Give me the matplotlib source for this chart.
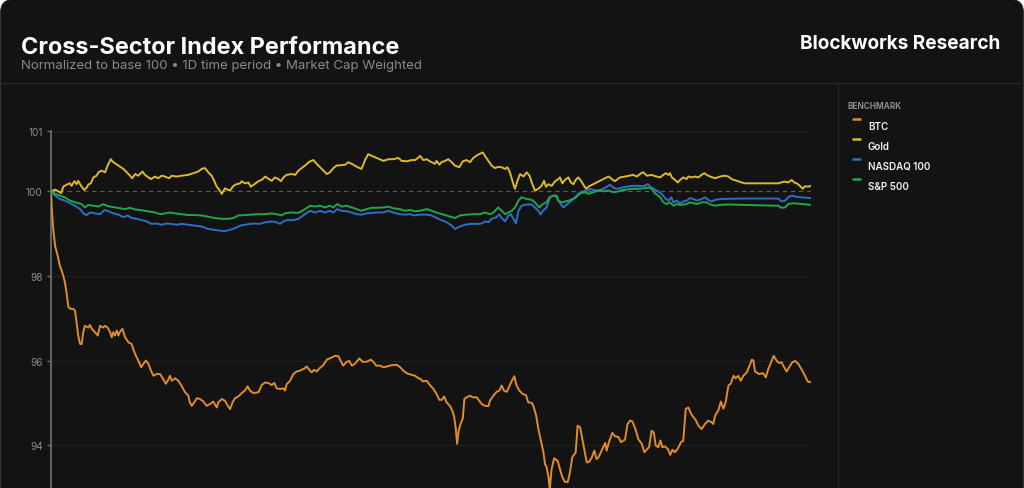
import matplotlib
matplotlib.use("Agg")
import matplotlib.pyplot as plt
from matplotlib.patches import FancyBboxPatch

# ---------------- data (hours since start, normalized index) ----------------
btc_t = [0, 0.02, 0.07, 0.13, 0.21, 0.28, 0.34, 0.39, 0.44, 0.49, 0.55, 0.63, 0.71, 0.76, 0.81, 0.86,
         0.92, 0.97, 1.02, 1.07, 1.18, 1.23, 1.29, 1.39, 1.48, 1.55, 1.65, 1.71, 1.79, 1.87, 1.92, 1.97,
         2.02, 2.08, 2.13, 2.18, 2.26, 2.34, 2.45, 2.55, 2.60, 2.68, 2.76, 2.85, 2.92, 3.00, 3.08, 3.16,
         3.24, 3.34, 3.45, 3.55, 3.63, 3.69, 3.76, 3.82, 3.92, 4.03, 4.13, 4.24, 4.34, 4.39, 4.45, 4.53,
         4.61, 4.71, 4.82, 4.92, 5.03, 5.13, 5.24, 5.29, 5.40, 5.50, 5.59, 5.66, 5.74, 5.82, 5.92, 6.03,
         6.13, 6.22, 6.29, 6.40, 6.56, 6.66, 6.77, 6.87, 6.98, 7.06, 7.14, 7.24, 7.35, 7.40, 7.45, 7.56,
         7.66, 7.77, 7.87, 8.03, 8.08, 8.17, 8.24, 8.32, 8.40, 8.48, 8.61, 8.72, 8.87, 8.98, 9.09, 9.16,
         9.24, 9.35, 9.43, 9.51, 9.61, 9.75, 9.85, 9.98, 10.11, 10.19, 10.28, 10.40, 10.51, 10.63, 10.77,
         10.93, 11.04, 11.14, 11.25, 11.40, 11.51, 11.62, 11.69, 11.75, 11.88, 11.98, 12.09, 12.19, 12.28,
         12.35, 12.43, 12.51, 12.62, 12.70, 12.75, 12.80, 12.84, 12.89, 12.95, 13.02, 13.07, 13.14, 13.25,
         13.33, 13.46, 13.54, 13.62, 13.72, 13.83, 13.88, 13.99, 14.09, 14.18, 14.25, 14.32, 14.41, 14.49,
         14.57, 14.65, 14.72, 14.81, 14.91, 15.02, 15.09, 15.20, 15.25, 15.34, 15.41, 15.48, 15.57, 15.62,
         15.67, 15.73, 15.77, 15.83, 15.91, 16.02, 16.09, 16.17, 16.25, 16.34, 16.41, 16.48, 16.59, 16.65,
         16.73, 16.80, 16.89, 16.94, 17.02, 17.10, 17.18, 17.25, 17.31, 17.41, 17.52, 17.57, 17.64, 17.75,
         17.83, 17.94, 18.02, 18.15, 18.23, 18.31, 18.38, 18.47, 18.57, 18.68, 18.76, 18.83, 18.91, 18.99,
         19.06, 19.12, 19.20, 19.27, 19.33, 19.41, 19.50, 19.58, 19.65, 19.73, 19.82, 19.92, 19.99, 20.07,
         20.15, 20.24, 20.31, 20.38, 20.47, 20.57, 20.68, 20.78, 20.89, 20.94, 21.00, 21.10, 21.18, 21.26,
         21.33, 21.42, 21.49, 21.58, 21.65, 21.73, 21.81, 21.89, 22.00, 22.05, 22.16, 22.21, 22.26, 22.39,
         22.52, 22.60, 22.68, 22.77, 22.85, 22.95, 23.02, 23.10, 23.18, 23.26, 23.37, 23.44, 23.53, 23.63,
         23.74, 23.84, 23.93, 24.02]
btc_v = [100.00, 99.66, 99.11, 98.71, 98.48, 98.24, 98.12, 98.00, 97.85, 97.61, 97.26, 97.22, 97.22, 97.18,
         96.90, 96.59, 96.39, 96.39, 96.67, 96.82, 96.78, 96.84, 96.75, 96.67, 96.59, 96.82, 96.78, 96.82,
         96.78, 96.67, 96.55, 96.67, 96.59, 96.71, 96.59, 96.68, 96.75, 96.55, 96.43, 96.39, 96.27, 96.12,
         96.00, 95.84, 95.92, 96.00, 95.92, 95.76, 95.64, 95.68, 95.68, 95.56, 95.45, 95.52, 95.64, 95.52,
         95.58, 95.52, 95.40, 95.25, 95.17, 95.01, 94.93, 95.01, 95.11, 95.09, 95.03, 94.93, 94.97, 95.03,
         94.89, 95.01, 95.09, 95.05, 94.93, 94.85, 95.01, 95.11, 95.15, 95.23, 95.29, 95.39, 95.29, 95.23,
         95.25, 95.42, 95.48, 95.47, 95.42, 95.47, 95.34, 95.33, 95.34, 95.29, 95.44, 95.52, 95.68, 95.74,
         95.76, 95.82, 95.86, 95.78, 95.72, 95.78, 95.74, 95.81, 95.89, 96.02, 96.07, 96.11, 96.10, 95.99,
         95.88, 95.97, 95.99, 95.88, 95.92, 96.05, 95.97, 95.97, 96.02, 95.97, 95.88, 95.88, 95.84, 95.86,
         95.89, 95.90, 95.84, 95.76, 95.70, 95.66, 95.64, 95.58, 95.56, 95.51, 95.52, 95.42, 95.33, 95.21,
         95.07, 95.07, 95.15, 95.01, 94.92, 94.79, 94.66, 94.38, 94.03, 94.34, 94.50, 94.63, 95.09, 95.13,
         95.17, 95.13, 95.13, 95.05, 94.97, 94.93, 94.92, 95.05, 95.17, 95.26, 95.29, 95.41, 95.29, 95.26,
         95.39, 95.52, 95.63, 95.41, 95.29, 95.21, 95.18, 95.01, 95.00, 94.93, 94.70, 94.38, 94.14, 93.83,
         93.55, 93.48, 93.24, 92.96, 93.44, 93.69, 93.63, 93.44, 93.24, 93.13, 93.13, 93.36, 93.71, 93.83,
         94.46, 94.42, 94.14, 93.79, 93.59, 93.61, 93.71, 93.87, 93.67, 93.71, 93.87, 94.05, 93.87, 94.07,
         94.29, 94.21, 94.19, 94.07, 94.13, 94.50, 94.58, 94.56, 94.40, 94.14, 94.03, 93.83, 93.89, 93.95,
         94.34, 94.30, 93.99, 93.95, 94.11, 93.95, 93.97, 93.91, 93.77, 93.89, 93.83, 93.92, 94.07, 94.10,
         94.86, 94.89, 94.74, 94.66, 94.60, 94.46, 94.38, 94.50, 94.58, 94.54, 94.50, 94.70, 94.82, 95.03,
         94.86, 95.01, 95.41, 95.45, 95.64, 95.58, 95.64, 95.52, 95.64, 95.72, 95.81, 96.02, 96.00, 95.74,
         95.68, 95.70, 95.60, 95.80, 95.96, 96.11, 95.99, 95.94, 95.96, 95.84, 95.74, 95.88, 95.96, 95.99,
         95.92, 95.78, 95.64, 95.50, 95.49]

gold_t = [0, 0.13, 0.23, 0.32, 0.39, 0.50, 0.60, 0.65, 0.74, 0.81, 0.86, 0.95, 1.05, 1.13, 1.18, 1.26,
          1.34, 1.44, 1.50, 1.60, 1.71, 1.79, 1.89, 1.97, 2.13, 2.29, 2.45, 2.57, 2.66, 2.76, 2.89, 2.97,
          3.08, 3.16, 3.29, 3.39, 3.50, 3.60, 3.73, 3.82, 3.97, 4.13, 4.34, 4.50, 4.66, 4.76, 4.87, 4.97,
          5.08, 5.16, 5.24, 5.34, 5.40, 5.50, 5.59, 5.66, 5.77, 5.87, 5.98, 6.03, 6.13, 6.24, 6.32, 6.43,
          6.56, 6.66, 6.77, 6.87, 6.98, 7.08, 7.19, 7.27, 7.35, 7.45, 7.61, 7.72, 7.82, 8.03, 8.19, 8.30,
          8.40, 8.56, 8.72, 8.82, 8.93, 9.03, 9.19, 9.30, 9.40, 9.56, 9.67, 9.82, 9.93, 10.03, 10.14, 10.30,
          10.51, 10.67, 10.82, 10.98, 11.09, 11.25, 11.40, 11.51, 11.62, 11.67, 11.77, 11.88, 11.98, 12.14,
          12.19, 12.28, 12.35, 12.46, 12.56, 12.67, 12.77, 12.91, 13.02, 13.14, 13.25, 13.35, 13.51, 13.65,
          13.72, 13.83, 13.93, 14.04, 14.14, 14.25, 14.36, 14.43, 14.51, 14.62, 14.67, 14.75, 14.83, 14.94,
          15.04, 15.13, 15.20, 15.30, 15.41, 15.51, 15.59, 15.65, 15.73, 15.83, 15.94, 16.04, 16.09, 16.17,
          16.25, 16.36, 16.44, 16.52, 16.59, 16.67, 16.76, 16.83, 16.92, 16.99, 17.12, 17.25, 17.41, 17.57,
          17.64, 17.73, 17.83, 17.99, 18.15, 18.28, 18.41, 18.52, 18.66, 18.73, 18.84, 18.99, 19.10, 19.26,
          19.36, 19.44, 19.52, 19.57, 19.63, 19.73, 19.82, 19.89, 19.99, 20.10, 20.15, 20.26, 20.36, 20.47,
          20.57, 20.66, 20.73, 20.84, 21.00, 21.15, 21.31, 21.42, 21.52, 21.68, 21.84, 21.94, 23.00, 23.08,
          23.21, 23.31, 23.42, 23.50, 23.58, 23.68, 23.77, 23.84, 23.95, 24.02]
gold_v = [100.00, 100.04, 100.00, 99.96, 100.11, 100.16, 100.19, 100.13, 100.24, 100.17, 100.25, 100.13,
          100.03, 100.09, 100.16, 100.19, 100.33, 100.37, 100.45, 100.49, 100.45, 100.61, 100.76, 100.69,
          100.61, 100.53, 100.41, 100.31, 100.41, 100.37, 100.47, 100.39, 100.33, 100.29, 100.35, 100.31,
          100.37, 100.35, 100.31, 100.37, 100.35, 100.37, 100.39, 100.43, 100.47, 100.53, 100.55, 100.45,
          100.37, 100.25, 100.11, 100.02, 99.94, 100.07, 100.04, 100.02, 100.13, 100.17, 100.19, 100.24,
          100.19, 100.21, 100.11, 100.17, 100.24, 100.27, 100.35, 100.30, 100.25, 100.33, 100.29, 100.24,
          100.33, 100.39, 100.41, 100.39, 100.49, 100.61, 100.71, 100.74, 100.65, 100.53, 100.41, 100.45,
          100.55, 100.61, 100.62, 100.63, 100.69, 100.63, 100.58, 100.53, 100.74, 100.88, 100.84, 100.79,
          100.72, 100.76, 100.76, 100.79, 100.72, 100.71, 100.74, 100.74, 100.80, 100.84, 100.74, 100.76,
          100.71, 100.65, 100.72, 100.63, 100.69, 100.72, 100.76, 100.69, 100.61, 100.57, 100.71, 100.74,
          100.69, 100.79, 100.87, 100.92, 100.84, 100.72, 100.61, 100.55, 100.58, 100.57, 100.53, 100.57,
          100.45, 100.17, 100.06, 100.25, 100.41, 100.35, 100.45, 100.37, 100.21, 100.02, 100.06, 100.13,
          100.25, 100.11, 100.17, 100.13, 100.24, 100.29, 100.33, 100.19, 100.27, 100.33, 100.21, 100.17,
          100.27, 100.33, 100.25, 100.16, 100.06, 100.11, 100.16, 100.21, 100.27, 100.33, 100.35, 100.29,
          100.24, 100.33, 100.35, 100.37, 100.39, 100.35, 100.43, 100.45, 100.37, 100.39, 100.36, 100.33,
          100.39, 100.43, 100.39, 100.43, 100.33, 100.27, 100.21, 100.27, 100.33, 100.29, 100.35, 100.33,
          100.35, 100.33, 100.39, 100.43, 100.39, 100.35, 100.31, 100.35, 100.37, 100.35, 100.29, 100.25,
          100.21, 100.19, 100.19, 100.21, 100.23, 100.21, 100.27, 100.21, 100.19, 100.13, 100.06, 100.12,
          100.11, 100.13]

ndx_t = [0, 0.13, 0.28, 0.44, 0.60, 0.76, 0.92, 1.05, 1.13, 1.23, 1.39, 1.55, 1.69, 1.81, 1.97, 2.13,
         2.29, 2.42, 2.55, 2.71, 2.87, 3.02, 3.18, 3.34, 3.50, 3.66, 3.82, 3.97, 4.13, 4.34, 4.55, 4.76,
         4.97, 5.18, 5.34, 5.50, 5.66, 5.82, 5.98, 6.13, 6.29, 6.45, 6.61, 6.77, 6.98, 7.13, 7.24, 7.35,
         7.45, 7.66, 7.82, 8.03, 8.19, 8.35, 8.51, 8.66, 8.82, 8.93, 9.05, 9.19, 9.35, 9.51, 9.67, 9.82,
         9.98, 10.14, 10.30, 10.51, 10.67, 10.82, 11.03, 11.19, 11.35, 11.51, 11.67, 11.88, 12.03, 12.19,
         12.35, 12.51, 12.67, 12.77, 12.93, 13.09, 13.25, 13.46, 13.62, 13.72, 13.83, 13.93, 14.09, 14.17,
         14.25, 14.36, 14.46, 14.54, 14.62, 14.70, 14.78, 14.88, 15.04, 15.20, 15.30, 15.41, 15.48, 15.55,
         15.67, 15.78, 15.88, 15.99, 16.04, 16.20, 16.36, 16.52, 16.67, 16.83, 16.94, 17.04, 17.20, 17.36,
         17.52, 17.68, 17.78, 17.89, 18.04, 18.20, 18.36, 18.57, 18.73, 18.87, 18.99, 19.15, 19.31, 19.42,
         19.52, 19.61, 19.68, 19.78, 19.89, 19.99, 20.10, 20.20, 20.31, 20.42, 20.57, 20.68, 20.78, 20.89,
         21.00, 21.20, 21.84, 23.00, 23.10, 23.21, 23.31, 23.42, 23.58, 23.74, 24.02]
ndx_v = [100.00, 99.90, 99.82, 99.78, 99.72, 99.66, 99.58, 99.46, 99.44, 99.50, 99.48, 99.46, 99.56, 99.53,
         99.48, 99.45, 99.39, 99.43, 99.37, 99.35, 99.32, 99.29, 99.23, 99.24, 99.21, 99.24, 99.23, 99.21,
         99.23, 99.21, 99.19, 99.17, 99.11, 99.09, 99.07, 99.06, 99.09, 99.13, 99.19, 99.21, 99.23, 99.24,
         99.23, 99.27, 99.29, 99.27, 99.23, 99.29, 99.32, 99.32, 99.35, 99.46, 99.54, 99.50, 99.54, 99.50,
         99.54, 99.50, 99.58, 99.54, 99.53, 99.50, 99.46, 99.45, 99.48, 99.49, 99.50, 99.50, 99.54, 99.50,
         99.46, 99.45, 99.46, 99.43, 99.45, 99.45, 99.43, 99.37, 99.32, 99.27, 99.19, 99.11, 99.17, 99.21,
         99.23, 99.23, 99.24, 99.29, 99.27, 99.35, 99.39, 99.46, 99.37, 99.29, 99.43, 99.46, 99.35, 99.24,
         99.54, 99.66, 99.69, 99.69, 99.62, 99.54, 99.45, 99.54, 99.62, 99.86, 99.90, 99.90, 99.78, 99.62,
         99.72, 99.82, 99.94, 100.00, 100.02, 100.06, 100.02, 100.03, 100.08, 100.16, 100.09, 100.06,
         100.09, 100.11, 100.13, 100.13, 100.12, 100.17, 100.09, 100.02, 99.94, 99.84, 99.78, 99.86, 99.74,
         99.78, 99.72, 99.76, 99.78, 99.84, 99.82, 99.78, 99.82, 99.86, 99.80, 99.76, 99.80, 99.82, 99.83,
         99.83, 99.76, 99.78, 99.86, 99.90, 99.87, 99.86, 99.84]

spx_t = [0, 0.13, 0.28, 0.44, 0.60, 0.76, 0.86, 0.97, 1.07, 1.18, 1.34, 1.50, 1.65, 1.76, 1.87, 2.02,
         2.18, 2.34, 2.50, 2.66, 2.81, 2.97, 3.13, 3.29, 3.45, 3.60, 3.76, 3.92, 4.13, 4.34, 4.55, 4.76,
         4.97, 5.18, 5.40, 5.61, 5.77, 5.92, 6.13, 6.34, 6.56, 6.77, 6.98, 7.19, 7.29, 7.40, 7.61, 7.82,
         8.03, 8.19, 8.35, 8.51, 8.66, 8.82, 8.93, 9.05, 9.19, 9.35, 9.51, 9.67, 9.82, 9.98, 10.14, 10.30,
         10.51, 10.67, 10.82, 11.03, 11.19, 11.35, 11.51, 11.67, 11.88, 12.03, 12.19, 12.41, 12.62, 12.77,
         12.93, 13.14, 13.35, 13.56, 13.72, 13.88, 13.99, 14.14, 14.25, 14.36, 14.46, 14.57, 14.67, 14.78,
         14.88, 15.04, 15.20, 15.30, 15.44, 15.55, 15.67, 15.76, 15.88, 15.99, 16.04, 16.15, 16.36, 16.57,
         16.73, 16.89, 16.99, 17.15, 17.31, 17.47, 17.62, 17.78, 17.94, 18.04, 18.20, 18.36, 18.57, 18.73,
         18.89, 18.99, 19.10, 19.26, 19.36, 19.47, 19.57, 19.68, 19.78, 19.89, 19.99, 20.10, 20.20, 20.31,
         20.42, 20.57, 20.73, 20.84, 21.00, 21.15, 21.42, 21.84, 22.89, 23.00, 23.10, 23.21, 23.31, 23.47,
         23.74, 24.02]
spx_v = [100.00, 99.94, 99.90, 99.86, 99.78, 99.74, 99.72, 99.70, 99.62, 99.68, 99.66, 99.64, 99.70, 99.66,
         99.64, 99.62, 99.60, 99.58, 99.61, 99.57, 99.56, 99.54, 99.52, 99.50, 99.46, 99.48, 99.50, 99.48,
         99.46, 99.44, 99.44, 99.43, 99.40, 99.37, 99.35, 99.35, 99.37, 99.43, 99.44, 99.45, 99.46, 99.46,
         99.48, 99.45, 99.43, 99.48, 99.50, 99.49, 99.58, 99.66, 99.64, 99.66, 99.62, 99.66, 99.62, 99.70,
         99.64, 99.66, 99.62, 99.58, 99.54, 99.58, 99.61, 99.61, 99.62, 99.64, 99.60, 99.58, 99.54, 99.56,
         99.53, 99.54, 99.58, 99.54, 99.50, 99.45, 99.40, 99.37, 99.43, 99.45, 99.46, 99.46, 99.50, 99.46,
         99.50, 99.62, 99.54, 99.46, 99.50, 99.54, 99.62, 99.78, 99.86, 99.82, 99.80, 99.74, 99.62, 99.70,
         99.74, 99.86, 99.90, 99.87, 99.78, 99.74, 99.78, 99.84, 99.95, 99.98, 99.94, 99.98, 100.02, 100.00,
         100.02, 99.98, 100.00, 100.03, 100.04, 100.06, 100.06, 100.07, 100.09, 100.06, 99.95, 99.86, 99.74,
         99.70, 99.74, 99.66, 99.70, 99.68, 99.69, 99.70, 99.74, 99.72, 99.70, 99.74, 99.74, 99.69, 99.66,
         99.68, 99.69, 99.68, 99.66, 99.66, 99.61, 99.62, 99.70, 99.72, 99.70, 99.68]

series_names = ["BTC", "Gold", "NASDAQ 100", "S&P 500"]
series_colors = ["#E08C2C", "#DDB92A", "#2E6FC4", "#21A64C"]
ytick_values = [94, 96, 98, 100, 101.42]
ytick_labels = ["94", "96", "98", "100", "101"]

# ---------------- figure ----------------
W, H = 1024, 489
fig = plt.figure(figsize=(W / 100, H / 100), dpi=100, facecolor="white")
BG = "#131313"

bg = fig.add_axes([0, 0, 1, 1], zorder=0)
bg.set_xlim(0, W)
bg.set_ylim(H, 0)
bg.axis("off")
bg.add_patch(FancyBboxPatch((0.5, 0.5), W - 1, H + 40, boxstyle="round,pad=0,rounding_size=13",
                            facecolor=BG, edgecolor="#262626", linewidth=0.6))
bg.plot([1, W - 1], [84, 84], color="#262626", lw=1)
bg.plot([837.5, 837.5], [84, H], color="#262626", lw=1)

bg.text(21, 53.5, "Cross-Sector Index Performance", color="white", fontsize=16.9,
        fontweight="bold", family="Inter", va="baseline", ha="left")
bg.text(21, 69, "Normalized to base 100 \u2022 1D time period \u2022 Market Cap Weighted",
        color="#8a8a8a", fontsize=9.5, family="Inter", va="baseline", ha="left")
bg.text(1000, 49, "Blockworks Research", color="white", fontsize=13.7, fontweight="bold",
        family="Inter", va="baseline", ha="right")

bg.text(848, 109.3, "BENCHMARK", color="#8a8a8a", fontsize=6, fontweight="bold",
        family="Inter", va="baseline", ha="left")
for i, (name, col) in enumerate(zip(series_names, series_colors)):
    y = 120 + 20 * i
    bg.plot([851.5, 861], [y, y], color=col, lw=1.8, solid_capstyle="butt")
    bg.text(868, y + 10, name, color="#f0f0f0", fontsize=7.1, fontweight="semibold",
            family="Inter", va="baseline", ha="left")

# ---------------- chart ----------------
top_px = 132.3
ax = fig.add_axes([51 / W, 0, 760 / W, (H - top_px) / H], zorder=1)
ax.patch.set_alpha(0)
ax.set_xlim(0, 24.03)
ax.set_ylim(92.986, 101.42)

for v in ytick_values:
    if v != 100:
        ax.axhline(v, color="#202020", lw=0.9, zorder=1)
ax.axhline(100, color="#5a5a5a", lw=0.9, dashes=(3.5, 3), zorder=2)

data = [(btc_t, btc_v), (gold_t, gold_v), (ndx_t, ndx_v), (spx_t, spx_v)]
for (t, v), col in zip(data, series_colors):
    ax.plot(t, v, color=col, lw=1.4, zorder=3, solid_joinstyle="round")

ax.set_yticks(ytick_values)
ax.set_yticklabels(ytick_labels)
ax.set_xticks([])
for s in ["top", "right", "bottom"]:
    ax.spines[s].set_visible(False)
ax.spines["left"].set_color("#6a6a6a")
ax.spines["left"].set_linewidth(1.3)
ax.tick_params(axis="y", colors="#6a6a6a", length=3, width=1, pad=3, labelsize=7.2,
               labelcolor="#8c8c8c")
for lab in ax.get_yticklabels():
    lab.set_family("Inter")

fig.savefig("out.png", dpi=100, facecolor="white")
